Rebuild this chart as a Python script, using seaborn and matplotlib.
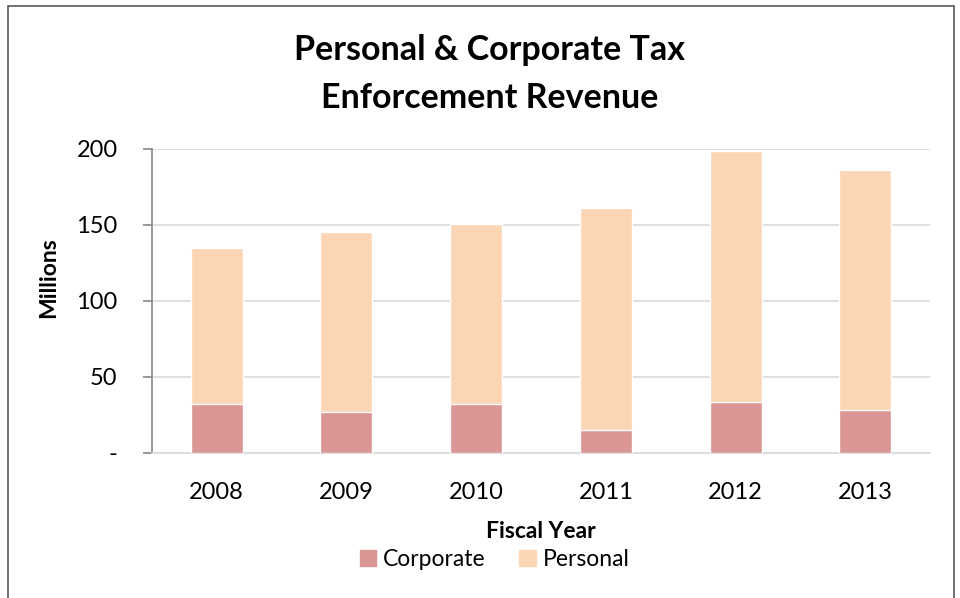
import matplotlib
matplotlib.use("Agg")
import matplotlib.pyplot as plt
import seaborn as sns
import pandas as pd
from matplotlib.patches import Patch, Rectangle

years = ["2008", "2009", "2010", "2011", "2012", "2013"]
corporate = [32.1, 27.0, 32.1, 15.2, 33.6, 28.3]
personal = [102.9, 118.6, 118.8, 146.2, 164.7, 158.1]

corp_color = "#D99694"
pers_color = "#FCD5B5"

df = pd.DataFrame({"Year": years, "Corporate": corporate, "Personal": personal})
df["Total"] = df["Corporate"] + df["Personal"]

sns.set_theme(style="white")
plt.rcParams["font.family"] = ["Lato", "DejaVu Sans"]
plt.rcParams["text.color"] = "black"
plt.rcParams["axes.labelcolor"] = "black"
plt.rcParams["xtick.color"] = "black"
plt.rcParams["ytick.color"] = "black"

fig = plt.figure(figsize=(9.6, 5.98), dpi=100)
ax = fig.add_axes([0.158, 0.2425, 0.811, 0.5085])

# stacked look: total bar (personal colour) then corporate on top
sns.barplot(data=df, x="Year", y="Total", color=pers_color, width=0.4,
            saturation=1, ax=ax, zorder=3)
sns.barplot(data=df, x="Year", y="Corporate", color=corp_color, width=0.4,
            saturation=1, ax=ax, zorder=4)

ax.set_ylim(0, 200)
ax.set_xlim(-0.5, 5.5)
ax.set_yticks([0, 50, 100, 150, 200])
ax.set_yticklabels(["-", "50", "100", "150", "200"])
ax.yaxis.grid(True, color="#D9D9D9", linewidth=1.2, zorder=0)
ax.set_axisbelow(True)

for s in ["top", "right"]:
    ax.spines[s].set_visible(False)
ax.spines["left"].set_color("#868686")
ax.spines["left"].set_linewidth(1.2)
ax.spines["bottom"].set_color("#D9D9D9")
ax.spines["bottom"].set_linewidth(1.2)

ax.tick_params(axis="y", left=True, length=6.5, width=1.2, color="#868686",
               labelsize=17, pad=18)
ax.tick_params(axis="x", bottom=False, labelsize=17, pad=15)

ax.set_ylabel("Millions", fontsize=16.5, fontweight="bold", va="center")
ax.yaxis.set_label_coords(-0.132, 0.576)
ax.set_xlabel("Fiscal Year", fontsize=16.5, fontweight="bold", va="center")
ax.xaxis.set_label_coords(0.5, -0.257)

fig.text(0.51, 0.876, "Personal & Corporate Tax\nEnforcement Revenue",
         ha="center", va="center", fontsize=24.5, fontweight="bold",
         linespacing=1.6)

handles = [Patch(color=corp_color, label="Corporate"),
           Patch(color=pers_color, label="Personal")]
fig.legend(handles=handles, loc="center", bbox_to_anchor=(0.515, 0.065),
           ncol=2, frameon=False, fontsize=16.5, handlelength=0.7,
           handleheight=0.7, columnspacing=1.5, handletextpad=0.3)

fig.patches.append(Rectangle((0.008, -0.05), 0.986, 1.04, transform=fig.transFigure,
                             fill=False, edgecolor="#595959", linewidth=1.2))

fig.savefig("out.png", dpi=100)
